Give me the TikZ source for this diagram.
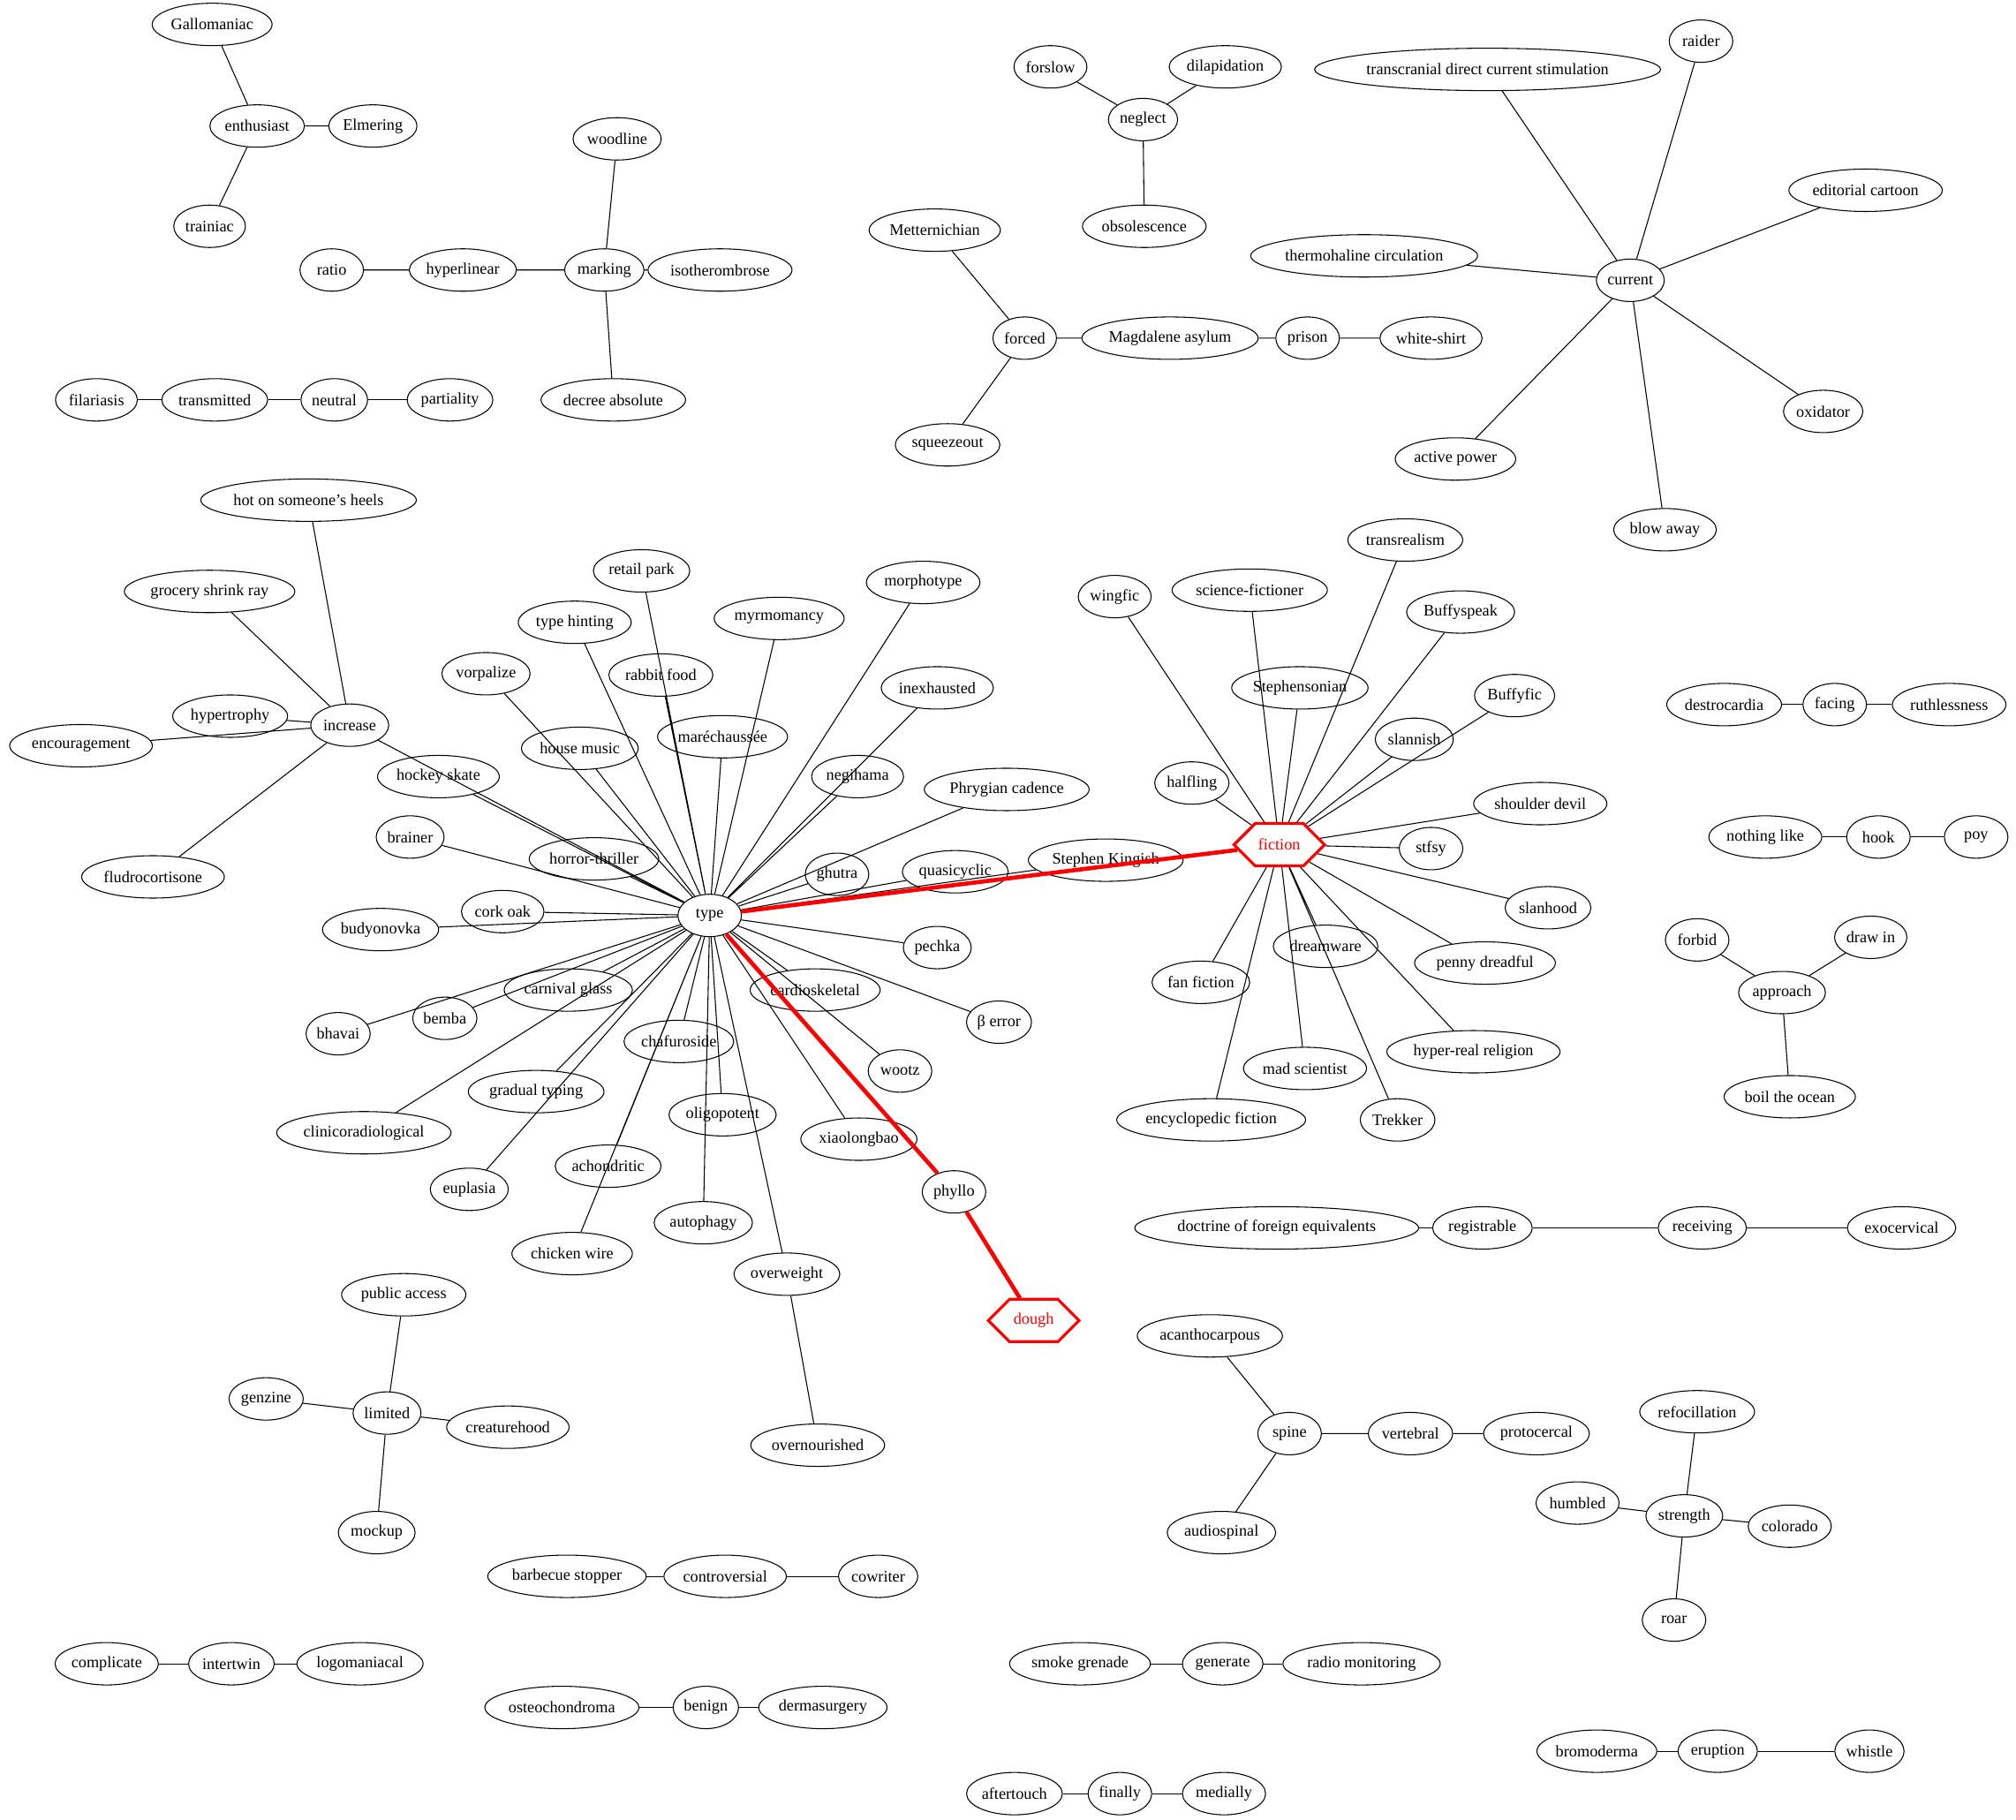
\documentclass[tikz,border=0pt]{standalone}
\usepackage{fontspec}
\setmainfont{Liberation Serif}
\usetikzlibrary{shapes.geometric,shapes.symbols}

\begin{document}
\begin{tikzpicture}[x=1.092pt,y=-1.092pt,
    term/.style={draw,ellipse,line width=0.8pt,inner xsep=1pt,inner ysep=2pt,
        minimum height=36pt,minimum width=54pt,font=\fontsize{13.7}{16}\selectfont},
    goal/.style={draw=red,text=red,signal,signal to=east and west,signal pointer angle=90,
        line width=2.4pt,minimum height=36pt,minimum width=77pt,inner sep=2pt,
        font=\fontsize{13.7}{16}\selectfont},
    link/.style={line width=0.8pt},
    route/.style={red,line width=3.5pt}]
    \useasboundingbox (0,0) rectangle (1568,1415.5);

    % small groups at the top
    \node[term] (gallo) at (165,19) {Gallomaniac};
    \node[term] (enth) at (200,98) {enthusiast};
    \node[term] (elmer) at (290,98) {Elmering};
    \node[term] (train) at (163,176) {trainiac};
    \node[term] (woodline) at (480,108) {woodline};
    \node[term] (marking) at (470,210) {marking};
    \node[term] (isoth) at (560,210) {isotherombrose};
    \node[term] (decree) at (477,311) {decree absolute};
    \node[term] (hyperl) at (360,210) {hyperlinear};
    \node[term] (ratio) at (258,210) {ratio};
    \node[term] (filar) at (75,311) {filariasis};
    \node[term] (transm) at (167,311) {transmitted};
    \node[term] (neutral) at (260,311) {neutral};
    \node[term] (partial) at (350,311) {partiality};
    \node[term] (forslow) at (817,52) {forslow};
    \node[term] (dilap) at (953,52) {dilapidation};
    \node[term] (neglect) at (889,93) {neglect};
    \node[term] (obsol) at (890,176) {obsolescence};
    \node[term] (mettern) at (727,179) {Metternichian};
    \node[term] (forced) at (797,263) {forced};
    \node[term] (magdal) at (910,263) {Magdalene asylum};
    \node[term] (prison) at (1017,263) {prison};
    \node[term] (white) at (1113,263) {white-shirt};
    \node[term] (squeeze) at (737,346) {squeezeout};
    \node[term] (transcr) at (1157,54) {transcranial direct current stimulation};
    \node[term] (raider) at (1323,32) {raider};
    \node[term] (editor) at (1451,148) {editorial cartoon};
    \node[term] (thermo) at (1061,199) {thermohaline circulation};
    \node[term] (current) at (1268,218) {current};
    \node[term] (oxid) at (1418,320) {oxidator};
    \node[term] (active) at (1132,357) {active power};
    \node[term] (blow) at (1295,412) {blow away};

    \draw[link] (enth) -- (gallo) (enth) -- (elmer) (enth) -- (train);
    \draw[link] (marking) -- (woodline) (marking) -- (isoth) (marking) -- (decree)
        (marking) -- (hyperl) (hyperl) -- (ratio);
    \draw[link] (filar) -- (transm) -- (neutral) -- (partial);
    \draw[link] (neglect) -- (forslow) (neglect) -- (dilap) (neglect) -- (obsol);
    \draw[link] (forced) -- (mettern) (forced) -- (squeeze) (forced) -- (magdal)
        (magdal) -- (prison) (prison) -- (white);
    \draw[link] (current) -- (transcr) (current) -- (raider) (current) -- (editor)
        (current) -- (thermo) (current) -- (oxid) (current) -- (active) (current) -- (blow);

    % increase
    \node[term] (hot) at (240,389) {hot on someone's heels};
    \node[term] (grocery) at (163,460) {grocery shrink ray};
    \node[term] (hypert) at (179,557) {hypertrophy};
    \node[term] (increase) at (272,564) {increase};
    \node[term] (encour) at (63,580) {encouragement};
    \node[term] (fludro) at (119,682) {fludrocortisone};

    % type and its words
    \node[term] (type) at (552,712) {type};
    \node[term] (retail) at (499,444) {retail park};
    \node[term] (hinting) at (447,484) {type hinting};
    \node[term] (myrmo) at (606,481) {myrmomancy};
    \node[term] (morpho) at (718,453) {morphotype};
    \node[term] (vorpal) at (378,524) {vorpalize};
    \node[term] (rabbit) at (514,525) {rabbit food};
    \node[term] (inexh) at (729,535) {inexhausted};
    \node[term] (house) at (451,582) {house music};
    \node[term] (marech) at (562,573) {maréchaussée};
    \node[term] (hockey) at (341,604) {hockey skate};
    \node[term] (negi) at (667,604) {negihama};
    \node[term] (phryg) at (783,614) {Phrygian cadence};
    \node[term] (brainer) at (319,651) {brainer};
    \node[term] (horror) at (462,668) {horror-thriller};
    \node[term] (ghutra) at (651,680) {ghutra};
    \node[term] (quasi) at (743,678) {quasicyclic};
    \node[term] (kingish) at (860,669) {Stephen Kingish};
    \node[term] (cork) at (391,709) {cork oak};
    \node[term] (budyo) at (296,723) {budyonovka};
    \node[term] (pechka) at (729,737) {pechka};
    \node[term] (carnival) at (442,770) {carnival glass};
    \node[term] (bemba) at (346,792) {bemba};
    \node[term] (bhavai) at (263,804) {bhavai};
    \node[term] (cardio) at (634,770) {cardioskeletal};
    \node[term] (beta) at (777,795) {β error};
    \node[term] (chafu) at (528,810) {chafuroside};
    \node[term] (wootz) at (700,833) {wootz};
    \node[term] (gradual) at (417,849) {gradual typing};
    \node[term] (clinico) at (283,881) {clinicoradiological};
    \node[term] (oligo) at (562,867) {oligopotent};
    \node[term] (xiao) at (668,886) {xiaolongbao};
    \node[term] (euplasia) at (365,925) {euplasia};
    \node[term] (achon) at (473,907) {achondritic};
    \node[term] (phyllo) at (742,927) {phyllo};
    \node[term] (autoph) at (547,951) {autophagy};
    \node[term] (chicken) at (445,975) {chicken wire};
    \node[term] (overw) at (612,991) {overweight};
    \node[term] (overn) at (636,1124) {overnourished};
    \node[goal] (dough) at (804,1027) {dough};

    % fiction and its words
    \node[goal] (fiction) at (995,657) {fiction};
    \node[term] (wingfic) at (867,464) {wingfic};
    \node[term] (scifi) at (972,459) {science-fictioner};
    \node[term] (transr) at (1093,420) {transrealism};
    \node[term] (buffysp) at (1136,476) {Buffyspeak};
    \node[term] (stephens) at (1011,535) {Stephensonian};
    \node[term] (buffyfic) at (1178,541) {Buffyfic};
    \node[term] (slannish) at (1100,575) {slannish};
    \node[term] (halfling) at (927,609) {halfling};
    \node[term] (shoulder) at (1198,625) {shoulder devil};
    \node[term] (stfsy) at (1113,660) {stfsy};
    \node[term] (slanhood) at (1204,706) {slanhood};
    \node[term] (penny) at (1155,749) {penny dreadful};
    \node[term] (dreamw) at (1031,736) {dreamware};
    \node[term] (fanfic) at (934,764) {fan fiction};
    \node[term] (hyperreal) at (1146,818) {hyper-real religion};
    \node[term] (madsci) at (1015,831) {mad scientist};
    \node[term] (encyclo) at (942,871) {encyclopedic fiction};
    \node[term] (trekker) at (1087,871) {Trekker};

    \draw[link] (increase) -- (hot) (increase) -- (grocery) (increase) -- (hypert)
        (increase) -- (encour) (increase) -- (fludro) (increase) -- (type);
    \draw[link] (type) -- (retail) (type) -- (hinting) (type) -- (myrmo) (type) -- (morpho)
        (type) -- (vorpal) (type) -- (rabbit) (type) -- (inexh) (type) -- (house)
        (type) -- (marech) (type) -- (hockey) (type) -- (negi) (type) -- (phryg)
        (type) -- (brainer) (type) -- (horror) (type) -- (ghutra) (type) -- (quasi)
        (type) -- (kingish) (type) -- (cork) (type) -- (budyo) (type) -- (pechka)
        (type) -- (carnival) (type) -- (bemba) (type) -- (bhavai) (type) -- (cardio)
        (type) -- (beta) (type) -- (chafu) (type) -- (wootz) (type) -- (gradual)
        (type) -- (clinico) (type) -- (oligo) (type) -- (xiao) (type) -- (euplasia)
        (type) -- (achon) (type) -- (autoph) (type) -- (chicken) (type) -- (overw);
    \draw[link] (overw) -- (overn);
    \draw[link] (fiction) -- (wingfic) (fiction) -- (scifi) (fiction) -- (transr)
        (fiction) -- (buffysp) (fiction) -- (stephens) (fiction) -- (buffyfic)
        (fiction) -- (slannish) (fiction) -- (halfling) (fiction) -- (shoulder)
        (fiction) -- (stfsy) (fiction) -- (slanhood) (fiction) -- (penny)
        (fiction) -- (dreamw) (fiction) -- (fanfic) (fiction) -- (hyperreal)
        (fiction) -- (madsci) (fiction) -- (encyclo) (fiction) -- (trekker);
    \draw[route] (type) -- (fiction);
    \draw[route] (type) -- (phyllo) -- (dough);

    % groups on the right and at the bottom
    \node[term] (destro) at (1341,548) {destrocardia};
    \node[term] (facing) at (1427,548) {facing};
    \node[term] (ruthless) at (1516,548) {ruthlessness};
    \node[term] (nothing) at (1373,651) {nothing like};
    \node[term] (hook) at (1461,651) {hook};
    \node[term] (poy) at (1537,651) {poy};
    \node[term] (forbid) at (1320,731) {forbid};
    \node[term] (drawin) at (1455,729) {draw in};
    \node[term] (approach) at (1386,772) {approach};
    \node[term] (boil) at (1392,853) {boil the ocean};
    \node[term] (doctrine) at (993,955) {doctrine of foreign equivalents};
    \node[term] (registr) at (1153,955) {registrable};
    \node[term] (receiv) at (1324,955) {receiving};
    \node[term] (exocerv) at (1479,955) {exocervical};
    \node[term] (acantho) at (941,1039) {acanthocarpous};
    \node[term] (spine) at (1003,1115) {spine};
    \node[term] (vertebral) at (1097,1115) {vertebral};
    \node[term] (protoc) at (1195,1115) {protocercal};
    \node[term] (audiosp) at (950,1192) {audiospinal};
    \node[term] (public) at (314,1007) {public access};
    \node[term] (genzine) at (207,1088) {genzine};
    \node[term] (limited) at (301,1099) {limited};
    \node[term] (creature) at (395,1110) {creaturehood};
    \node[term] (mockup) at (293,1192) {mockup};
    \node[term] (refoc) at (1320,1098) {refocillation};
    \node[term] (humbled) at (1227,1169) {humbled};
    \node[term] (strength) at (1310,1179) {strength};
    \node[term] (colorado) at (1392,1187) {colorado};
    \node[term] (roar) at (1302,1260) {roar};
    \node[term] (barbecue) at (441,1226) {barbecue stopper};
    \node[term] (controv) at (564,1226) {controversial};
    \node[term] (cowriter) at (683,1226) {cowriter};
    \node[term] (complic) at (83,1294) {complicate};
    \node[term] (intertw) at (180,1294) {intertwin};
    \node[term] (logom) at (280,1294) {logomaniacal};
    \node[term] (smoke) at (840,1294) {smoke grenade};
    \node[term] (generate) at (951,1294) {generate};
    \node[term] (radio) at (1059,1294) {radio monitoring};
    \node[term] (osteo) at (437,1328) {osteochondroma};
    \node[term] (benign) at (549,1328) {benign};
    \node[term] (dermas) at (640,1328) {dermasurgery};
    \node[term] (bromo) at (1242,1362) {bromoderma};
    \node[term] (eruption) at (1336,1362) {eruption};
    \node[term] (whistle) at (1454,1362) {whistle};
    \node[term] (aftert) at (789,1395) {aftertouch};
    \node[term] (finally) at (871,1395) {finally};
    \node[term] (medially) at (952,1395) {medially};

    \draw[link] (destro) -- (facing) -- (ruthless);
    \draw[link] (nothing) -- (hook) -- (poy);
    \draw[link] (approach) -- (forbid) (approach) -- (drawin) (approach) -- (boil);
    \draw[link] (doctrine) -- (registr) -- (receiv) -- (exocerv);
    \draw[link] (spine) -- (acantho) (spine) -- (audiosp) (spine) -- (vertebral) -- (protoc);
    \draw[link] (limited) -- (public) (limited) -- (genzine) (limited) -- (creature)
        (limited) -- (mockup);
    \draw[link] (strength) -- (refoc) (strength) -- (humbled) (strength) -- (colorado)
        (strength) -- (roar);
    \draw[link] (barbecue) -- (controv) -- (cowriter);
    \draw[link] (complic) -- (intertw) -- (logom);
    \draw[link] (smoke) -- (generate) -- (radio);
    \draw[link] (osteo) -- (benign) -- (dermas);
    \draw[link] (bromo) -- (eruption) -- (whistle);
    \draw[link] (aftert) -- (finally) -- (medially);
\end{tikzpicture}
\end{document}
